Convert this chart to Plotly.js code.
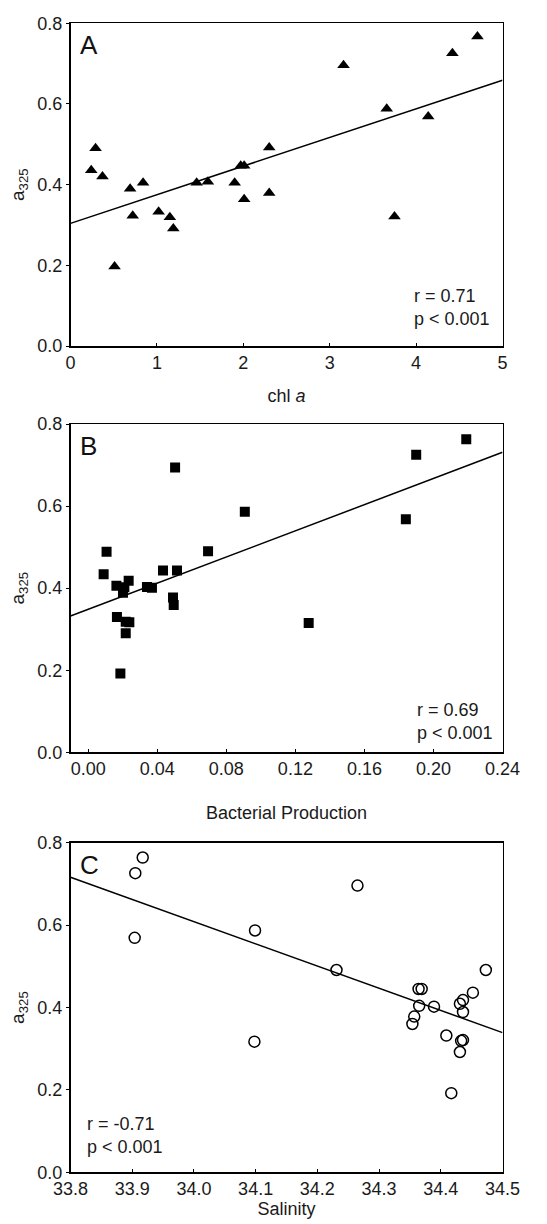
<!DOCTYPE html>
<html>
<head>
<meta charset="utf-8">
<script src="https://cdn.plot.ly/plotly-3.0.1.min.js"></script>
<style>
html,body{margin:0;padding:0;background:#fff;}
#chart{width:547px;height:1224px;}
</style>
</head>
<body>
<div id="chart"></div>
<script>
// Panel A: a325 vs chl a
const chlA = [0.24,0.29,0.37,0.51,0.69,0.72,0.84,1.02,1.15,1.19,1.46,1.59,1.90,1.97,2.01,2.01,2.30,2.30,3.16,3.66,3.75,4.14,4.42,4.71];
const a325A = [0.436,0.490,0.420,0.197,0.390,0.323,0.405,0.333,0.319,0.291,0.405,0.407,0.405,0.447,0.447,0.364,0.492,0.379,0.696,0.588,0.321,0.569,0.726,0.767];
const fitAx = [0, 5];
const fitAy = [0.304, 0.659];

// Panel B: a325 vs bacterial production
const bactProd = [0.0089,0.0106,0.0163,0.0166,0.0186,0.0201,0.0209,0.0217,0.0217,0.0234,0.0238,0.0340,0.0369,0.0433,0.0491,0.0495,0.0503,0.0514,0.0694,0.0907,0.1277,0.1840,0.1900,0.2190];
const a325B = [0.434,0.489,0.406,0.330,0.192,0.389,0.402,0.318,0.290,0.418,0.317,0.403,0.401,0.443,0.377,0.359,0.694,0.443,0.490,0.586,0.315,0.568,0.725,0.763];
const fitBx = [-0.0103, 0.24];
const fitBy = [0.332, 0.731];

// Panel C: a325 vs salinity
const salinity = [33.904,33.905,33.917,34.099,34.098,34.231,34.265,34.354,34.357,34.364,34.369,34.365,34.389,34.409,34.417,34.431,34.436,34.436,34.433,34.436,34.431,34.452,34.473];
const a325C = [0.569,0.726,0.764,0.587,0.317,0.491,0.696,0.360,0.378,0.445,0.445,0.404,0.402,0.332,0.192,0.409,0.418,0.389,0.319,0.321,0.292,0.436,0.491];
const fitCx = [33.8, 34.5];
const fitCy = [0.716, 0.339];

const yTicks = [0, 0.2, 0.4, 0.6, 0.8];
const yTickText = ['0.0','0.2','0.4','0.6','0.8'];
const xTicksA = [0,1,2,3,4,5];
const xTicksB = [0,0.04,0.08,0.12,0.16,0.20,0.24];
const xTickTextB = ['0.00','0.04','0.08','0.12','0.16','0.20','0.24'];
const xTicksC = [33.8,33.9,34.0,34.1,34.2,34.3,34.4,34.5];
const xTickTextC = ['33.8','33.9','34.0','34.1','34.2','34.3','34.4','34.5'];

const FONT = 'Liberation Sans, Arial, Helvetica, sans-serif';
const FS = 18;
const TXT = '#1a1a1a';

const traces = [
  {x: chlA, y: a325A, xaxis:'x', yaxis:'y', type:'scatter', mode:'markers',
   marker:{symbol:'triangle-up', size:11, color:'#000'}},
  {x: fitAx, y: fitAy, xaxis:'x', yaxis:'y', type:'scatter', mode:'lines',
   line:{color:'#000', width:1.5}},
  {x: bactProd, y: a325B, xaxis:'x2', yaxis:'y2', type:'scatter', mode:'markers',
   marker:{symbol:'square', size:10, color:'#000'}},
  {x: fitBx, y: fitBy, xaxis:'x2', yaxis:'y2', type:'scatter', mode:'lines',
   line:{color:'#000', width:1.5}},
  {x: salinity, y: a325C, xaxis:'x3', yaxis:'y3', type:'scatter', mode:'markers',
   marker:{symbol:'circle-open', size:11, color:'#000', line:{width:1.5, color:'#000'}}},
  {x: fitCx, y: fitCy, xaxis:'x3', yaxis:'y3', type:'scatter', mode:'lines',
   line:{color:'#000', width:1.5}}
];

const xdom = [70.5/547, 502.5/547];
function yax(dom, anchor){
  return {domain: dom, anchor: anchor, range:[0,0.8], tickvals: yTicks, ticktext: yTickText,
    showline:true, mirror:true, linecolor:'#000', linewidth:1.5, ticks:'outside', ticklen:3,
    tickcolor:'#000', showgrid:false, zeroline:false, automargin:false,
    tickfont:{family:FONT, size:FS, color:TXT},
    title:{text:'a<sub>325</sub>', font:{family:FONT, size:FS+1, color:TXT}, standoff:7}};
}
function xax(dom, anchor, range, tv, tt, title, standoff){
  return {domain: dom, anchor: anchor, range: range, tickvals: tv, ticktext: tt,
    showline:true, mirror:true, linecolor:'#000', linewidth:1.5, ticks:'inside', ticklen:3,
    tickcolor:'#000', showgrid:false, zeroline:false, automargin:false,
    tickfont:{family:FONT, size:FS, color:TXT},
    title:{text:title, font:{family:FONT, size:FS, color:TXT}, standoff:standoff}};
}

const domA = [1-346/1224, 1-23.3/1224];
const domB = [1-752.3/1224, 1-424/1224];
const domC = [1-1172.3/1224, 1-842.7/1224];

const layout = {
  width:547, height:1224,
  margin:{l:0, r:0, t:0, b:0},
  paper_bgcolor:'#fff', plot_bgcolor:'#fff',
  showlegend:false,
  font:{family:FONT, size:FS, color:TXT},
  xaxis: xax(xdom, 'y', [0,5], xTicksA, xTicksA.map(String), 'chl <i>a</i>', 17),
  yaxis: yax(domA, 'x'),
  xaxis2: xax(xdom, 'y2', [-0.0103,0.24], xTicksB, xTickTextB, 'Bacterial Production', 28),
  yaxis2: yax(domB, 'x2'),
  xaxis3: xax(xdom, 'y3', [33.8,34.5], xTicksC, xTickTextC, 'Salinity', 0),
  yaxis3: yax(domC, 'x3'),
  annotations: [
    {text:'A', xref:'x domain', yref:'y domain', x:0.018, y:0.985, xanchor:'left', yanchor:'top', showarrow:false, font:{family:FONT, size:26, color:'#111'}},
    {text:'B', xref:'x2 domain', yref:'y2 domain', x:0.018, y:0.985, xanchor:'left', yanchor:'top', showarrow:false, font:{family:FONT, size:26, color:'#111'}},
    {text:'C', xref:'x3 domain', yref:'y3 domain', x:0.018, y:0.985, xanchor:'left', yanchor:'top', showarrow:false, font:{family:FONT, size:26, color:'#111'}},
    {text:'r = 0.71<br>p < 0.001', xref:'x domain', yref:'y domain', x:0.79, y:0.118, xanchor:'left', yanchor:'middle', align:'left', showarrow:false, font:{family:FONT, size:FS, color:TXT}},
    {text:'r = 0.69<br>p < 0.001', xref:'x2 domain', yref:'y2 domain', x:0.797, y:0.093, xanchor:'left', yanchor:'middle', align:'left', showarrow:false, font:{family:FONT, size:FS, color:TXT}},
    {text:'r = -0.71<br>p < 0.001', xref:'x3 domain', yref:'y3 domain', x:0.033, y:0.111, xanchor:'left', yanchor:'middle', align:'left', showarrow:false, font:{family:FONT, size:FS, color:TXT}}
  ]
};

Plotly.newPlot('chart', traces, layout, {staticPlot:true, displayModeBar:false});
</script>
</body>
</html>
